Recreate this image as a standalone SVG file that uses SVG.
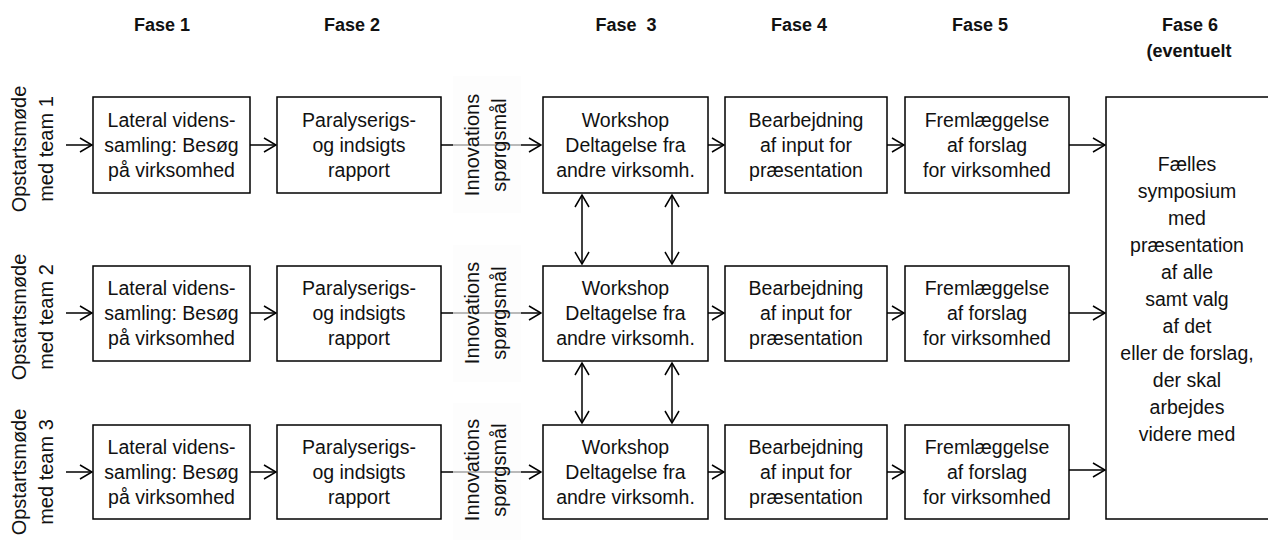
<svg xmlns="http://www.w3.org/2000/svg" width="1268" height="541" viewBox="0 0 1268 541">
<style>
.box{fill:#fff;stroke:#000;stroke-width:1.5}
.t{font-family:"Liberation Sans",Arial,sans-serif;font-size:19.5px;fill:#111;text-anchor:middle}
.h{font-family:"Liberation Sans",Arial,sans-serif;font-size:18px;font-weight:bold;fill:#111;text-anchor:middle}
.lab{font-family:"Liberation Sans",Arial,sans-serif;font-size:20px;fill:#111;text-anchor:middle}
.c{stroke:#000;stroke-width:1.5;fill:none}
.ibg{fill:#fcfcfc;fill-opacity:0.65}
</style>
<defs>
<marker id="ah" viewBox="0 0 14 16" refX="13" refY="8" markerWidth="14" markerHeight="16" markerUnits="userSpaceOnUse" orient="auto-start-reverse">
<path d="M1,1 L13,8 L1,15" fill="none" stroke="#000" stroke-width="1.5"/>
</marker>
</defs>

<g id="headers">
<text class="h" x="162" y="31">Fase 1</text>
<text class="h" x="352" y="31">Fase 2</text>
<text class="h" x="626" y="31" xml:space="preserve">Fase  3</text>
<text class="h" x="799" y="31">Fase 4</text>
<text class="h" x="980" y="31">Fase 5</text>
<text class="h" x="1190" y="31">Fase 6</text>
<text class="h" x="1189" y="57">(eventuelt</text>
</g>

<g id="start1"><text class="lab" transform="translate(26,149) rotate(-90)"><tspan x="0" y="0">Opstartsmøde</tspan><tspan x="0" y="27">med team 1</tspan></text></g>
<g id="start2"><text class="lab" transform="translate(26,317) rotate(-90)"><tspan x="0" y="0">Opstartsmøde</tspan><tspan x="0" y="27">med team 2</tspan></text></g>
<g id="start3"><text class="lab" transform="translate(26,472) rotate(-90)"><tspan x="0" y="0">Opstartsmøde</tspan><tspan x="0" y="27">med team 3</tspan></text></g>

<g id="connectors">
<line class="c" x1="66" y1="145" x2="92" y2="145" marker-end="url(#ah)"/>
<line class="c" x1="66" y1="313" x2="92" y2="313" marker-end="url(#ah)"/>
<line class="c" x1="66" y1="472" x2="92" y2="472" marker-end="url(#ah)"/>
<line class="c" x1="250" y1="145" x2="276" y2="145" marker-end="url(#ah)"/>
<line class="c" x1="250" y1="313" x2="276" y2="313" marker-end="url(#ah)"/>
<line class="c" x1="250" y1="472" x2="276" y2="472" marker-end="url(#ah)"/>
<line class="c" x1="441" y1="145" x2="541" y2="145" marker-end="url(#ah)"/>
<line class="c" x1="441" y1="313" x2="541" y2="313" marker-end="url(#ah)"/>
<line class="c" x1="441" y1="472" x2="541" y2="472" marker-end="url(#ah)"/>
<line class="c" x1="708" y1="145" x2="724" y2="145" marker-end="url(#ah)"/>
<line class="c" x1="708" y1="313" x2="724" y2="313" marker-end="url(#ah)"/>
<line class="c" x1="708" y1="472" x2="724" y2="472" marker-end="url(#ah)"/>
<line class="c" x1="887" y1="145" x2="904" y2="145" marker-end="url(#ah)"/>
<line class="c" x1="887" y1="313" x2="904" y2="313" marker-end="url(#ah)"/>
<line class="c" x1="887" y1="472" x2="904" y2="472" marker-end="url(#ah)"/>
<line class="c" x1="1069" y1="145" x2="1105" y2="145" marker-end="url(#ah)"/>
<line class="c" x1="1069" y1="313" x2="1105" y2="313" marker-end="url(#ah)"/>
<line class="c" x1="1069" y1="470" x2="1105" y2="470" marker-end="url(#ah)"/>
<line class="c" x1="582" y1="195" x2="582" y2="264" marker-start="url(#ah)" marker-end="url(#ah)"/>
<line class="c" x1="672" y1="195" x2="672" y2="264" marker-start="url(#ah)" marker-end="url(#ah)"/>
<line class="c" x1="582" y1="363" x2="582" y2="423" marker-start="url(#ah)" marker-end="url(#ah)"/>
<line class="c" x1="672" y1="363" x2="672" y2="423" marker-start="url(#ah)" marker-end="url(#ah)"/>
</g>

<g id="innov1"><rect class="ibg" x="453" y="76" width="68" height="137"/><text class="lab" transform="translate(472,145) rotate(-90)"><tspan x="0" y="7">Innovations</tspan><tspan x="0" y="34">spørgsmål</tspan></text></g>
<g id="innov2"><rect class="ibg" x="453" y="245" width="68" height="137"/><text class="lab" transform="translate(472,313) rotate(-90)"><tspan x="0" y="7">Innovations</tspan><tspan x="0" y="34">spørgsmål</tspan></text></g>
<g id="innov3"><rect class="ibg" x="453" y="403" width="68" height="137"/><text class="lab" transform="translate(472,470) rotate(-90)"><tspan x="0" y="7">Innovations</tspan><tspan x="0" y="34">spørgsmål</tspan></text></g>

<g id="lateral1"><rect class="box" x="93" y="97" width="157" height="96"/><text class="t"><tspan x="171.5" y="127">Lateral videns-</tspan><tspan x="171.5" y="152">samling: Besøg</tspan><tspan x="171.5" y="177">på virksomhed</tspan></text></g>
<g id="lateral2"><rect class="box" x="93" y="266" width="157" height="95"/><text class="t"><tspan x="171.5" y="295">Lateral videns-</tspan><tspan x="171.5" y="320">samling: Besøg</tspan><tspan x="171.5" y="345">på virksomhed</tspan></text></g>
<g id="lateral3"><rect class="box" x="93" y="425" width="157" height="94"/><text class="t"><tspan x="171.5" y="454">Lateral videns-</tspan><tspan x="171.5" y="479">samling: Besøg</tspan><tspan x="171.5" y="504">på virksomhed</tspan></text></g>

<g id="rapport1"><rect class="box" x="277" y="97" width="164" height="96"/><text class="t"><tspan x="359" y="127">Paralyserigs-</tspan><tspan x="359" y="152">og indsigts</tspan><tspan x="359" y="177">rapport</tspan></text></g>
<g id="rapport2"><rect class="box" x="277" y="266" width="164" height="95"/><text class="t"><tspan x="359" y="295">Paralyserigs-</tspan><tspan x="359" y="320">og indsigts</tspan><tspan x="359" y="345">rapport</tspan></text></g>
<g id="rapport3"><rect class="box" x="277" y="425" width="164" height="94"/><text class="t"><tspan x="359" y="454">Paralyserigs-</tspan><tspan x="359" y="479">og indsigts</tspan><tspan x="359" y="504">rapport</tspan></text></g>

<g id="workshop1"><rect class="box" x="543" y="97" width="165" height="96"/><text class="t"><tspan x="625.5" y="127">Workshop</tspan><tspan x="625.5" y="152">Deltagelse fra</tspan><tspan x="625.5" y="177">andre virksomh.</tspan></text></g>
<g id="workshop2"><rect class="box" x="543" y="266" width="165" height="95"/><text class="t"><tspan x="625.5" y="295">Workshop</tspan><tspan x="625.5" y="320">Deltagelse fra</tspan><tspan x="625.5" y="345">andre virksomh.</tspan></text></g>
<g id="workshop3"><rect class="box" x="543" y="425" width="165" height="94"/><text class="t"><tspan x="625.5" y="454">Workshop</tspan><tspan x="625.5" y="479">Deltagelse fra</tspan><tspan x="625.5" y="504">andre virksomh.</tspan></text></g>

<g id="bearb1"><rect class="box" x="725" y="97" width="162" height="96"/><text class="t"><tspan x="806" y="127">Bearbejdning</tspan><tspan x="806" y="152">af input for</tspan><tspan x="806" y="177">præsentation</tspan></text></g>
<g id="bearb2"><rect class="box" x="725" y="266" width="162" height="95"/><text class="t"><tspan x="806" y="295">Bearbejdning</tspan><tspan x="806" y="320">af input for</tspan><tspan x="806" y="345">præsentation</tspan></text></g>
<g id="bearb3"><rect class="box" x="725" y="425" width="162" height="94"/><text class="t"><tspan x="806" y="454">Bearbejdning</tspan><tspan x="806" y="479">af input for</tspan><tspan x="806" y="504">præsentation</tspan></text></g>

<g id="frem1"><rect class="box" x="905" y="97" width="164" height="96"/><text class="t"><tspan x="987" y="127">Fremlæggelse</tspan><tspan x="987" y="152">af forslag</tspan><tspan x="987" y="177">for virksomhed</tspan></text></g>
<g id="frem2"><rect class="box" x="905" y="266" width="164" height="95"/><text class="t"><tspan x="987" y="295">Fremlæggelse</tspan><tspan x="987" y="320">af forslag</tspan><tspan x="987" y="345">for virksomhed</tspan></text></g>
<g id="frem3"><rect class="box" x="905" y="425" width="164" height="94"/><text class="t"><tspan x="987" y="454">Fremlæggelse</tspan><tspan x="987" y="479">af forslag</tspan><tspan x="987" y="504">for virksomhed</tspan></text></g>

<g id="symposium"><rect class="box" x="1106" y="97" width="170" height="422"/><text class="t"><tspan x="1187" y="171">Fælles</tspan><tspan x="1187" y="198">symposium</tspan><tspan x="1187" y="225">med</tspan><tspan x="1187" y="252">præsentation</tspan><tspan x="1187" y="279">af alle</tspan><tspan x="1187" y="306">samt valg</tspan><tspan x="1187" y="333">af det</tspan><tspan x="1187" y="360">eller de forslag,</tspan><tspan x="1187" y="387">der skal</tspan><tspan x="1187" y="414">arbejdes</tspan><tspan x="1187" y="441">videre med</tspan></text></g>
</svg>
